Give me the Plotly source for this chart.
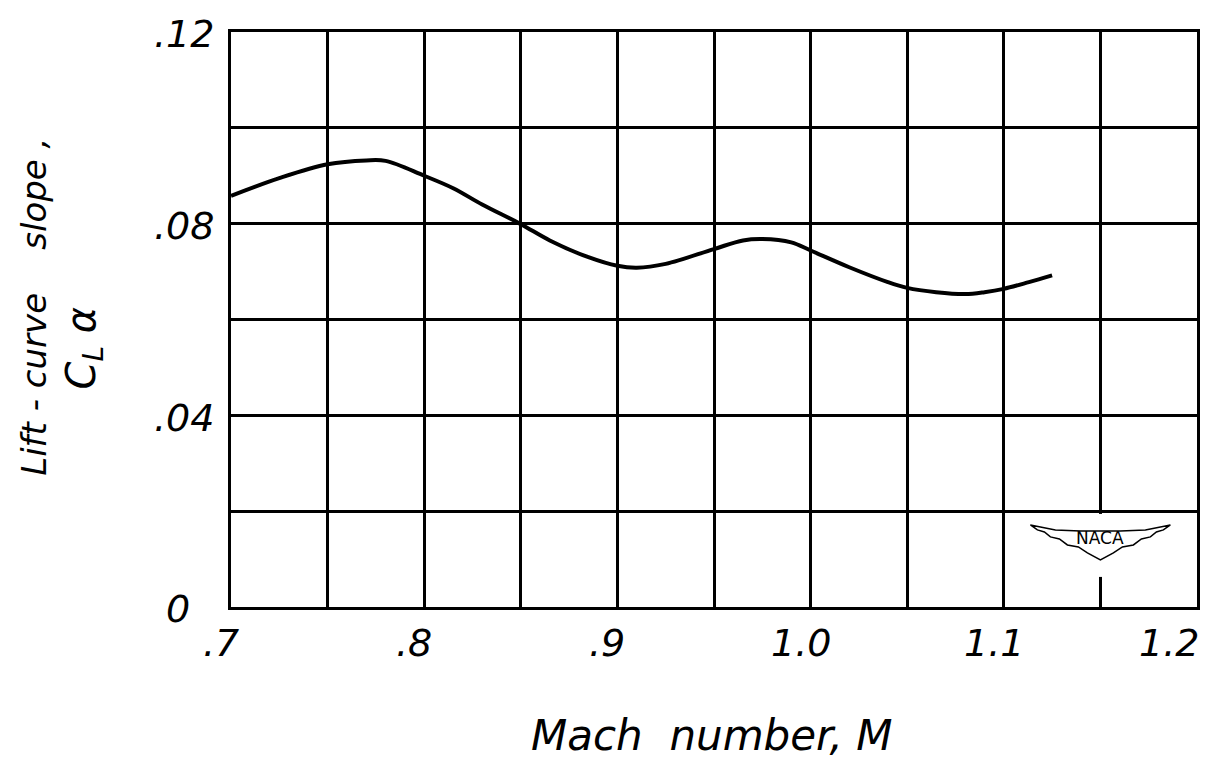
import plotly.graph_objects as go

# Data
mach = [0.70, 0.725, 0.75, 0.77, 0.78, 0.80, 0.815, 0.83, 0.85, 0.865, 0.885,
        0.90, 0.91, 0.925, 0.95, 0.965, 0.975, 0.99, 1.00, 1.02, 1.04, 1.05,
        1.065, 1.08, 1.09, 1.10, 1.113, 1.125]
cl_alpha = [0.0858, 0.0895, 0.0924, 0.0932, 0.0931, 0.0900, 0.0874, 0.0840,
            0.0799, 0.0765, 0.0730, 0.0712, 0.0708, 0.0716, 0.0747, 0.0765,
            0.0768, 0.0761, 0.0744, 0.0709, 0.0678, 0.0666, 0.0657, 0.0653,
            0.0657, 0.0664, 0.0678, 0.0692]

x_tickvals = [0.7, 0.8, 0.9, 1.0, 1.1, 1.2]
x_ticktext = [".7", ".8", ".9", "1.0", "1.1", "1.2"]
x_gridvals = [0.70, 0.75, 0.80, 0.85, 0.90, 0.95, 1.00, 1.05, 1.10, 1.15, 1.20]
y_tickvals = [0.0, 0.04, 0.08, 0.12]
y_ticktext = ["0\u00a0\u00a0", ".04", ".08", ".12"]
y_gridvals = [0.0, 0.02, 0.04, 0.06, 0.08, 0.10, 0.12]

FONT = "DejaVu Sans"
TICKFONT = dict(family=FONT, size=38, color="black", style="italic")

fig = go.Figure()
fig.add_trace(go.Scatter(
    x=mach, y=cl_alpha, mode="lines",
    line=dict(color="black", width=4, shape="spline", smoothing=1.0),
    hoverinfo="skip", showlegend=False,
))

grid_style = dict(showgrid=True, gridcolor="black", gridwidth=2.5)

# The page body has an 8px margin, so the figure is sized/offset to compensate
fig.update_layout(
    width=1201, height=755,
    margin=dict(l=223, r=12, t=24, b=156, autoexpand=False),
    paper_bgcolor="white", plot_bgcolor="white",
    showlegend=False,
    xaxis=dict(
        range=[0.7, 1.2], tickmode="array", tickvals=x_tickvals,
        showticklabels=False,
        minor=dict(tickmode="array", tickvals=x_gridvals, ticks="", **grid_style),
        showline=True, linecolor="black", linewidth=3, mirror=True,
        ticks="", zeroline=False, automargin=False, **grid_style,
    ),
    yaxis=dict(
        range=[0, 0.12], tickmode="array", tickvals=y_tickvals, ticktext=y_ticktext,
        minor=dict(tickmode="array", tickvals=y_gridvals, ticks="", **grid_style),
        showline=True, linecolor="black", linewidth=3, mirror=True,
        ticks="", zeroline=False, automargin=False, **grid_style,
        tickfont=TICKFONT,
        ticklabelstandoff=6, ticklabelshift=2, ticklabeloverflow="allow",
    ),
)

# X tick labels placed on the x scale (slightly left of each grid line)
for i, (val, lab) in enumerate(zip(x_tickvals, x_ticktext)):
    last = i == len(x_tickvals) - 1
    fig.add_annotation(
        text=lab, xref="x", yref="y", x=val, y=0,
        xanchor="right" if last else "center", yanchor="top",
        xshift=4 if last else -10, yshift=-12,
        showarrow=False, font=TICKFONT,
    )

# Axis titles
fig.add_annotation(
    text="Mach  number, M", xref="paper", yref="paper", x=0.497, y=-0.224,
    showarrow=False, xanchor="center", yanchor="middle",
    font=dict(family=FONT, size=42, color="black", style="italic"),
)
fig.add_annotation(
    text="Lift - curve    slope ,", xref="paper", yref="paper", x=-0.204, y=0.522,
    showarrow=False, textangle=-90, xanchor="center", yanchor="middle",
    font=dict(family=FONT, size=34, color="black", style="italic"),
)
fig.add_annotation(
    text="C<sub>L</sub> α", xref="paper", yref="paper", x=-0.152, y=0.45,
    showarrow=False, textangle=-90, xanchor="center", yanchor="middle",
    font=dict(family=FONT, size=40, color="black", style="italic"),
)

# NACA wing logo (decoration)
fig.add_shape(
    type="path", xref="x", yref="y", xsizemode="pixel", ysizemode="pixel",
    xanchor=1.15, yanchor=0.014,
    path="M -4,26 L 4,26 L 4,-37 L -4,-37 Z",
    fillcolor="white", line=dict(width=0), layer="above",
)
fig.add_shape(
    type="path", xref="x", yref="y", xsizemode="pixel", ysizemode="pixel",
    xanchor=1.15, yanchor=0.014,
    path=("M -70,15 L -45,10 L -20,9 L 20,9 L 45,10 L 70,15 L 63,10 L 56,8 "
          "L 50,3 L 41,1 L 33,-5 L 22,-7 L 13,-13 L 0,-20 L -13,-13 L -22,-7 "
          "L -33,-5 L -41,1 L -50,3 L -56,8 L -63,10 Z"),
    fillcolor="white", line=dict(color="black", width=1.5), layer="above",
)
fig.add_annotation(
    text="NACA", xref="x", yref="y", x=1.15, y=0.0143,
    showarrow=False, font=dict(family=FONT, size=17, color="black"),
)

fig.write_html("out.html")
